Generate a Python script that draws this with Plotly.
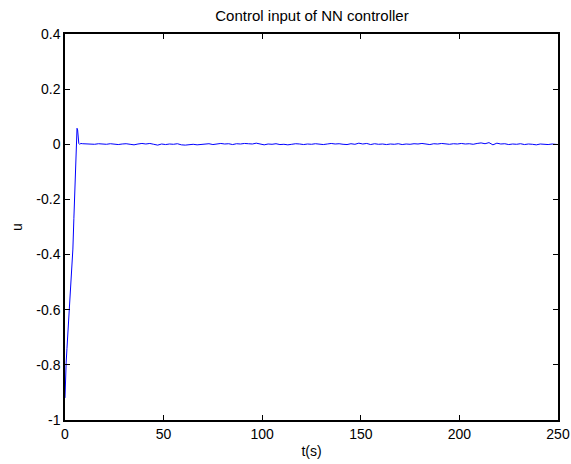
import plotly.graph_objects as go

# transient part of the control input
t_start = [0, 0.2, 0.6, 1.0, 1.5, 2.0, 2.5, 3.0, 3.5, 4.0, 4.5, 5.0, 5.4, 5.8,
           6.1, 6.4, 6.7, 7.0, 7.4, 8.0]
u_start = [-0.92, -0.86, -0.79, -0.74, -0.68, -0.63, -0.58, -0.52, -0.45, -0.38,
           -0.27, -0.15, -0.02, 0.04, 0.058, 0.052, 0.02, 0.003, 0.0, 0.003]

# steady part (t = 9, 11, ..., 249, 250)
t_steady = list(range(9, 250, 2)) + [250]
u_steady = [
    0.002, 0.001, 0.002, 0.000, 0.002, 0.001, 0.000, 0.002, 0.001, -0.001,
    0.001, 0.002, 0.000, -0.002, 0.001, 0.003, 0.001, 0.003, 0.000, -0.003,
    0.001, -0.001, 0.001, 0.000, 0.002, -0.002, -0.003, -0.001, 0.000, -0.002,
    0.000, 0.001, 0.002, -0.001, 0.001, 0.003, 0.001, 0.002, -0.001, 0.002,
    0.001, 0.003, 0.002, 0.001, 0.004, 0.000, -0.002, 0.001, 0.000, 0.002,
    -0.001, 0.000, -0.002, 0.000, 0.002, 0.001, -0.001, 0.001, 0.000, 0.002,
    0.001, -0.001, 0.001, 0.003, 0.001, 0.002, 0.000, -0.001, 0.002, 0.000,
    0.004, 0.001, 0.003, -0.001, 0.002, 0.000, 0.001, -0.001, 0.001, 0.000,
    0.002, -0.001, 0.001, 0.000, 0.002, 0.001, 0.003, 0.001, -0.001, 0.002,
    0.001, 0.003, 0.002, 0.000, 0.002, 0.001, 0.003, 0.001, 0.002, 0.000,
    0.003, 0.005, 0.002, 0.006, -0.002, 0.004, 0.001, 0.002, -0.001, 0.001,
    0.000, 0.002, -0.001, 0.001, 0.000, -0.002, 0.001, 0.000, -0.001, 0.001,
    -0.001, -0.001,
]

x_ticks = [0, 50, 100, 150, 200, 250]
y_ticks = [-1, -0.8, -0.6, -0.4, -0.2, 0, 0.2, 0.4]
y_tick_labels = ["-1", "-0.8", "-0.6", "-0.4", "-0.2", "0", "0.2", "0.4"]

t = t_start + t_steady
u = u_start + u_steady[:len(t_steady)]

fig = go.Figure()
fig.add_trace(go.Scatter(x=t, y=u, mode="lines",
                         line=dict(color="#0000ff", width=1), showlegend=False))

family = "Liberation Sans, Arial, sans-serif"
font = dict(family=family, size=14, color="black")
axis_common = dict(showline=True, linecolor="black", linewidth=1.5, mirror="ticks",
                   ticks="inside", ticklen=5, tickcolor="black", tickwidth=1,
                   showgrid=False, zeroline=False, tickfont=font, automargin=False)

W, H = 571, 464
fig.update_layout(
    width=W, height=H,
    margin=dict(l=65, r=13, t=34, b=44),
    paper_bgcolor="white", plot_bgcolor="white",
    font=font,
    title=dict(text="Control input of NN controller", x=312 / W,
               xanchor="center", y=1 - 16 / H, yanchor="middle",
               font=dict(family=family, size=15, color="black")),
    xaxis=dict(range=[0, 250], tickvals=x_ticks,
               title=dict(text="t(s)", font=font, standoff=6), **axis_common),
    yaxis=dict(range=[-1, 0.4], tickvals=y_ticks, ticktext=y_tick_labels,
               title=dict(text="u", font=font, standoff=10), **axis_common),
)

fig.write_html("out.html",
               config={"displayModeBar": False},
               post_script="document.body.style.margin='0px';"
                           "document.body.style.overflow='hidden';")
